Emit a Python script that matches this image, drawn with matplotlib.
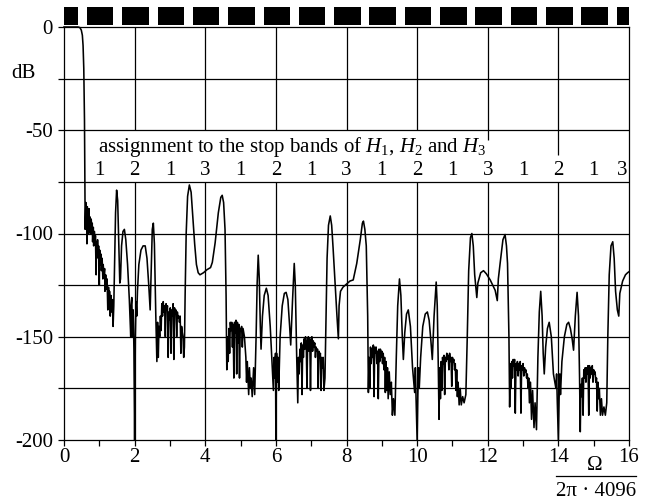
import matplotlib
matplotlib.use("Agg")
import matplotlib.pyplot as plt
from matplotlib.lines import Line2D

plt.rcParams['font.family'] = ['Liberation Serif', 'DejaVu Serif']
plt.rcParams['mathtext.fontset'] = 'custom'
plt.rcParams['mathtext.rm'] = 'Liberation Serif'
plt.rcParams['mathtext.it'] = 'Liberation Serif:italic'
plt.rcParams['axes.unicode_minus'] = False

#-------------------------------------------------------------------------
# data: (normalised frequency, magnitude in dB)
#-------------------------------------------------------------------------

# passband, transition and stop bands up to 4
resp_0_4 = [
  (0.00, 0), (0.40, 0), (0.45, -0.3), (0.49, -1.5), (0.52, -4), (0.54, -9),
  (0.56, -20), (0.58, -45), (0.59, -70), (0.60, -98),
  (0.62, -85), (0.63, -98), (0.64, -88), (0.65, -105), (0.66, -87), (0.67, -97),
  (0.68, -90), (0.70, -100), (0.71, -88), (0.72, -96), (0.74, -92), (0.76, -100),
  (0.77, -93), (0.79, -98), (0.80, -95), (0.81, -104), (0.83, -97), (0.84, -106),
  (0.86, -99), (0.88, -105), (0.89, -101), (0.91, -120), (0.92, -104), (0.94, -110),
  (0.95, -103), (0.97, -112), (0.98, -106), (1.00, -125), (1.01, -108), (1.03, -115),
  (1.05, -110), (1.06, -118), (1.08, -112), (1.10, -122), (1.11, -115), (1.13, -120),
  (1.15, -117), (1.16, -128), (1.18, -120), (1.20, -127), (1.22, -122), (1.24, -137),
  (1.26, -126), (1.28, -132), (1.29, -128), (1.31, -140), (1.33, -130), (1.35, -138),
  (1.37, -132), (1.39, -145), (1.41, -135),
  (1.43, -118), (1.46, -90), (1.49, -79), (1.52, -84), (1.55, -105), (1.58, -124),
  (1.60, -122), (1.63, -106), (1.67, -99), (1.71, -98), (1.75, -103), (1.80, -115),
  (1.85, -132), (1.89, -150), (1.90, -135), (1.92, -131), (1.94, -150), (1.96, -137),
  (1.98, -156), (2.00, -200), (2.02, -150), (2.04, -133), (2.06, -140), (2.08, -128),
  (2.12, -115), (2.18, -108), (2.24, -106), (2.30, -106), (2.35, -112), (2.40, -125),
  (2.44, -137), (2.47, -118), (2.50, -98), (2.53, -95), (2.56, -105), (2.60, -140),
  (2.63, -162),
  (2.65, -143), (2.67, -160), (2.69, -145), (2.71, -150), (2.73, -140), (2.75, -147),
  (2.77, -134), (2.79, -140), (2.81, -133), (2.83, -138), (2.85, -135), (2.87, -150),
  (2.89, -134), (2.91, -137), (2.93, -135), (2.95, -160), (2.97, -138), (2.99, -142),
  (3.01, -136), (3.03, -158), (3.05, -137), (3.07, -140), (3.09, -134), (3.11, -161),
  (3.13, -136), (3.15, -139), (3.17, -137), (3.19, -150), (3.21, -138), (3.23, -141),
  (3.25, -140), (3.27, -143), (3.29, -140), (3.31, -158), (3.33, -145), (3.35, -148),
  (3.37, -150), (3.39, -160), (3.41, -155),
  (3.43, -130), (3.46, -100), (3.50, -82), (3.55, -76.5), (3.60, -80), (3.64, -90),
  (3.70, -105), (3.75, -115), (3.80, -119), (3.85, -120), (3.95, -119),
]

resp_4_8 = [
  (4.05, -117.5), (4.15, -116.5), (4.20, -114), (4.28, -104.5), (4.37, -90),
  (4.44, -82.5), (4.48, -81.5), (4.52, -85), (4.56, -98), (4.59, -130), (4.61, -166),
  (4.63, -150), (4.65, -162), (4.67, -146), (4.69, -158), (4.71, -143), (4.73, -147),
  (4.75, -143), (4.77, -155), (4.79, -144), (4.81, -170), (4.83, -143), (4.85, -148),
  (4.87, -142), (4.89, -168), (4.91, -143), (4.93, -153), (4.95, -144), (4.97, -170),
  (4.99, -146), (5.01, -147), (5.03, -145), (5.05, -155), (5.07, -146), (5.09, -148),
  (5.11, -150), (5.13, -155), (5.15, -160), (5.17, -172), (5.19, -162), (5.21, -170),
  (5.23, -178), (5.25, -165), (5.28, -175), (5.30, -170), (5.33, -179), (5.37, -165),
  (5.40, -178),
  (5.44, -150), (5.47, -124), (5.50, -110.5), (5.53, -122), (5.56, -145), (5.58, -156),
  (5.62, -140), (5.67, -130), (5.73, -126.5), (5.78, -130), (5.84, -145), (5.90, -165),
  (5.93, -176), (5.95, -160), (5.97, -170), (5.99, -158), (6.00, -200), (6.02, -158),
  (6.04, -172), (6.06, -160), (6.08, -176), (6.12, -150), (6.18, -135), (6.24, -129),
  (6.29, -128.5), (6.34, -132), (6.39, -145), (6.42, -154), (6.47, -133),
  (6.52, -114.5), (6.55, -125), (6.59, -160), (6.62, -182),
  (6.64, -160), (6.66, -168), (6.68, -156), (6.70, -162), (6.72, -153), (6.74, -178),
  (6.76, -154), (6.78, -160), (6.80, -151), (6.82, -156), (6.84, -150), (6.86, -153),
  (6.88, -175), (6.90, -152), (6.92, -150), (6.94, -157), (6.96, -151), (6.98, -176),
  (7.00, -152), (7.02, -150), (7.04, -157), (7.06, -152), (7.08, -155), (7.10, -153),
  (7.12, -160), (7.14, -155), (7.16, -157), (7.18, -156), (7.20, -175), (7.22, -157),
  (7.24, -160), (7.26, -158), (7.28, -176), (7.30, -160), (7.32, -165), (7.34, -160),
  (7.36, -176), (7.39, -170),
  (7.42, -140), (7.45, -112), (7.49, -96), (7.54, -91.5), (7.58, -96), (7.62, -107),
  (7.68, -125), (7.73, -140), (7.77, -151), (7.79, -135), (7.83, -128), (7.90, -126),
  (8.00, -124.5),
]

resp_8_12 = [
  (8.10, -123), (8.19, -122.5), (8.29, -114.5), (8.39, -103), (8.45, -95), (8.48, -94),
  (8.52, -98), (8.56, -106), (8.60, -140), (8.62, -177),
  (8.64, -160), (8.66, -175), (8.68, -155), (8.70, -163), (8.72, -156), (8.74, -160),
  (8.76, -154), (8.78, -179), (8.80, -155), (8.82, -158), (8.84, -155), (8.86, -163),
  (8.88, -157), (8.90, -180), (8.92, -156), (8.94, -162), (8.96, -156), (8.98, -160),
  (9.00, -157), (9.02, -163), (9.04, -158), (9.06, -166), (9.08, -160), (9.10, -177),
  (9.12, -162), (9.14, -176), (9.16, -165), (9.18, -180), (9.21, -167), (9.24, -178),
  (9.27, -172), (9.30, -188), (9.33, -180), (9.37, -188),
  (9.41, -160), (9.45, -135), (9.50, -122), (9.54, -130), (9.58, -150), (9.61, -161),
  (9.65, -148), (9.70, -139), (9.75, -137), (9.81, -145), (9.87, -165), (9.93, -177),
  (9.95, -165), (9.97, -180), (10.00, -200), (10.02, -178), (10.04, -165),
  (10.06, -175), (10.10, -160), (10.16, -145), (10.23, -139), (10.29, -138),
  (10.34, -142), (10.39, -152), (10.43, -161), (10.48, -140), (10.54, -123.5),
  (10.57, -135), (10.60, -165), (10.62, -190),
  (10.64, -165), (10.66, -180), (10.68, -162), (10.70, -176), (10.72, -160),
  (10.74, -163), (10.76, -159), (10.78, -178), (10.80, -160), (10.82, -162),
  (10.84, -158), (10.86, -161), (10.88, -159), (10.90, -166), (10.92, -158),
  (10.94, -162), (10.96, -160), (10.98, -174), (11.00, -160), (11.02, -162),
  (11.04, -161), (11.06, -166), (11.08, -163), (11.10, -176), (11.12, -166),
  (11.14, -179), (11.16, -172), (11.19, -183), (11.22, -175), (11.25, -183),
  (11.29, -179), (11.33, -182), (11.38, -178),
  (11.42, -150), (11.46, -118), (11.51, -102), (11.55, -100), (11.59, -106),
  (11.63, -120), (11.69, -131), (11.72, -124), (11.80, -119), (11.88, -118),
  (11.96, -119.5), (12.07, -122.5),
]

resp_12_16 = [
  (12.14, -125), (12.21, -127.5), (12.27, -132.5), (12.30, -122), (12.35, -114.5),
  (12.43, -103), (12.49, -100.5), (12.53, -106), (12.56, -114.5), (12.60, -150),
  (12.62, -184),
  (12.64, -163), (12.66, -175), (12.68, -162), (12.70, -170), (12.72, -161),
  (12.74, -164), (12.76, -161), (12.78, -187), (12.80, -163), (12.82, -166),
  (12.84, -162), (12.86, -169), (12.88, -163), (12.90, -166), (12.92, -162),
  (12.94, -187), (12.96, -164), (12.98, -166), (13.00, -163), (13.02, -169),
  (13.04, -165), (13.06, -167), (13.08, -166), (13.10, -170), (13.12, -168),
  (13.14, -175), (13.16, -170), (13.18, -182), (13.21, -172), (13.24, -190),
  (13.27, -176), (13.31, -194), (13.34, -182), (13.38, -195),
  (13.42, -160), (13.46, -138), (13.50, -128), (13.54, -140), (13.57, -158),
  (13.60, -168), (13.64, -155), (13.69, -146), (13.74, -143), (13.80, -150),
  (13.86, -168), (13.93, -175), (13.95, -168), (13.97, -182), (14.00, -200),
  (14.02, -180), (14.04, -168), (14.06, -178), (14.10, -162), (14.17, -150),
  (14.24, -144), (14.29, -143), (14.34, -146), (14.39, -151), (14.43, -156.5),
  (14.48, -140), (14.53, -128.5), (14.57, -140), (14.60, -170), (14.62, -196),
  (14.64, -173), (14.66, -179), (14.68, -170), (14.70, -188), (14.72, -166),
  (14.74, -170), (14.76, -165), (14.78, -172), (14.80, -165), (14.82, -168),
  (14.84, -164), (14.86, -188), (14.88, -164), (14.90, -170), (14.92, -165),
  (14.94, -168), (14.96, -164), (14.98, -172), (15.00, -166), (15.02, -168),
  (15.04, -167), (15.06, -172), (15.08, -170), (15.10, -186), (15.12, -172),
  (15.14, -180), (15.16, -175), (15.19, -188), (15.22, -180), (15.25, -188),
  (15.29, -184), (15.33, -188), (15.37, -182),
  (15.40, -150), (15.44, -120), (15.49, -106), (15.54, -104), (15.58, -112),
  (15.62, -128), (15.67, -137), (15.71, -140), (15.74, -129), (15.82, -123),
  (15.90, -120), (15.96, -119), (16.00, -118.5),
]

# passbands of the filter bank (white gaps in the bar on top)
pass_lo = 0.40
pass_hi = 0.65
n_bands = 16

# which filter each stop band belongs to
band_num = [1, 2, 1, 3, 1, 2, 1, 3, 1, 2, 1, 3, 1, 2, 1, 3]
band_pos = [1, 2, 3, 4, 5, 6, 7, 8, 9, 10, 11, 12, 13, 14, 15, 15.82]

y_ticks = [-200, -175, -150, -125, -100, -75, -50, -25, 0]
y_labels = ['-200', '', '-150', '', '-100', '', '-50', '', '0']
x_ticks = [0, 2, 4, 6, 8, 10, 12, 14, 16]

#-------------------------------------------------------------------------
# plot
#-------------------------------------------------------------------------

pts = resp_0_4 + resp_4_8 + resp_8_12 + resp_12_16
freq = [p[0] for p in pts]
mag = [p[1] for p in pts]

FS = 15
W, H = 667, 501
fig = plt.figure(figsize=(W/100, H/100), dpi=100)
ax = fig.add_axes([64/W, 1-440/H, (629-64)/W, (440-27)/H])
ax.set_xlim(0, 16)
ax.set_ylim(-200, 0)

lw = 0.9
for s in ax.spines.values():
  s.set_linewidth(lw)

# grid: horizontal lines full width, vertical ones broken by the labels
for y in y_ticks[1:-1]:
  ax.axhline(y, color='k', lw=lw, zorder=1)
ax.vlines([2, 4, 6, 8, 10], -50, 0, color='k', lw=lw, zorder=1)
ax.vlines([12], -54.5, 0, color='k', lw=lw, zorder=1)
ax.vlines([14], -62, 0, color='k', lw=lw, zorder=1)
ax.vlines([2, 4, 6, 8, 10, 12, 14], -200, -75, color='k', lw=lw, zorder=1)

ax.plot(freq, mag, color='k', lw=1.15, zorder=3, clip_on=False)

# black bar with passband gaps above the axes
edges = [0]
for k in range(n_bands):
  edges += [k + pass_lo, k + pass_hi]
edges.append(16)
for a, b in zip(edges[0::2], edges[1::2]):
  ax.fill_between([a, b], 1.0, 9.7, color='k', lw=0, clip_on=False)

ax.text(0.95, -60.4, 'assignment to the stop bands of $H_1$, $H_2$ and $H_3$',
        fontsize=FS, va='baseline', ha='left', zorder=4)
for xp, n in zip(band_pos, band_num):
  ax.text(xp, -71.7, str(n), fontsize=FS, va='baseline', ha='center', zorder=4)

ax.set_yticks(y_ticks)
ax.set_yticklabels(y_labels)
ax.set_xticks(x_ticks)
ax.set_xticks(range(1, 16, 2), minor=True)
ax.tick_params(which='both', direction='out', length=4.3, width=lw,
               labelsize=FS, color='k')
ax.tick_params(axis='y', pad=3.6)
ax.tick_params(axis='x', pad=1.5)

ax.text(-1.15, -22.5, 'dB', fontsize=FS, ha='center', va='center', clip_on=False)

# x label as a fraction
fig.text(595/W, 1-470/H, '\u03a9', fontsize=FS, ha='center', va='baseline')
fig.add_artist(Line2D([556/W, 636/W], [1-476/H, 1-476/H], color='k', lw=lw,
                      transform=fig.transFigure))
fig.text(596/W, 1-496/H, '2\u03c0 \u00b7 4096', fontsize=FS, ha='center', va='baseline')

fig.savefig('out.png', dpi=100)
